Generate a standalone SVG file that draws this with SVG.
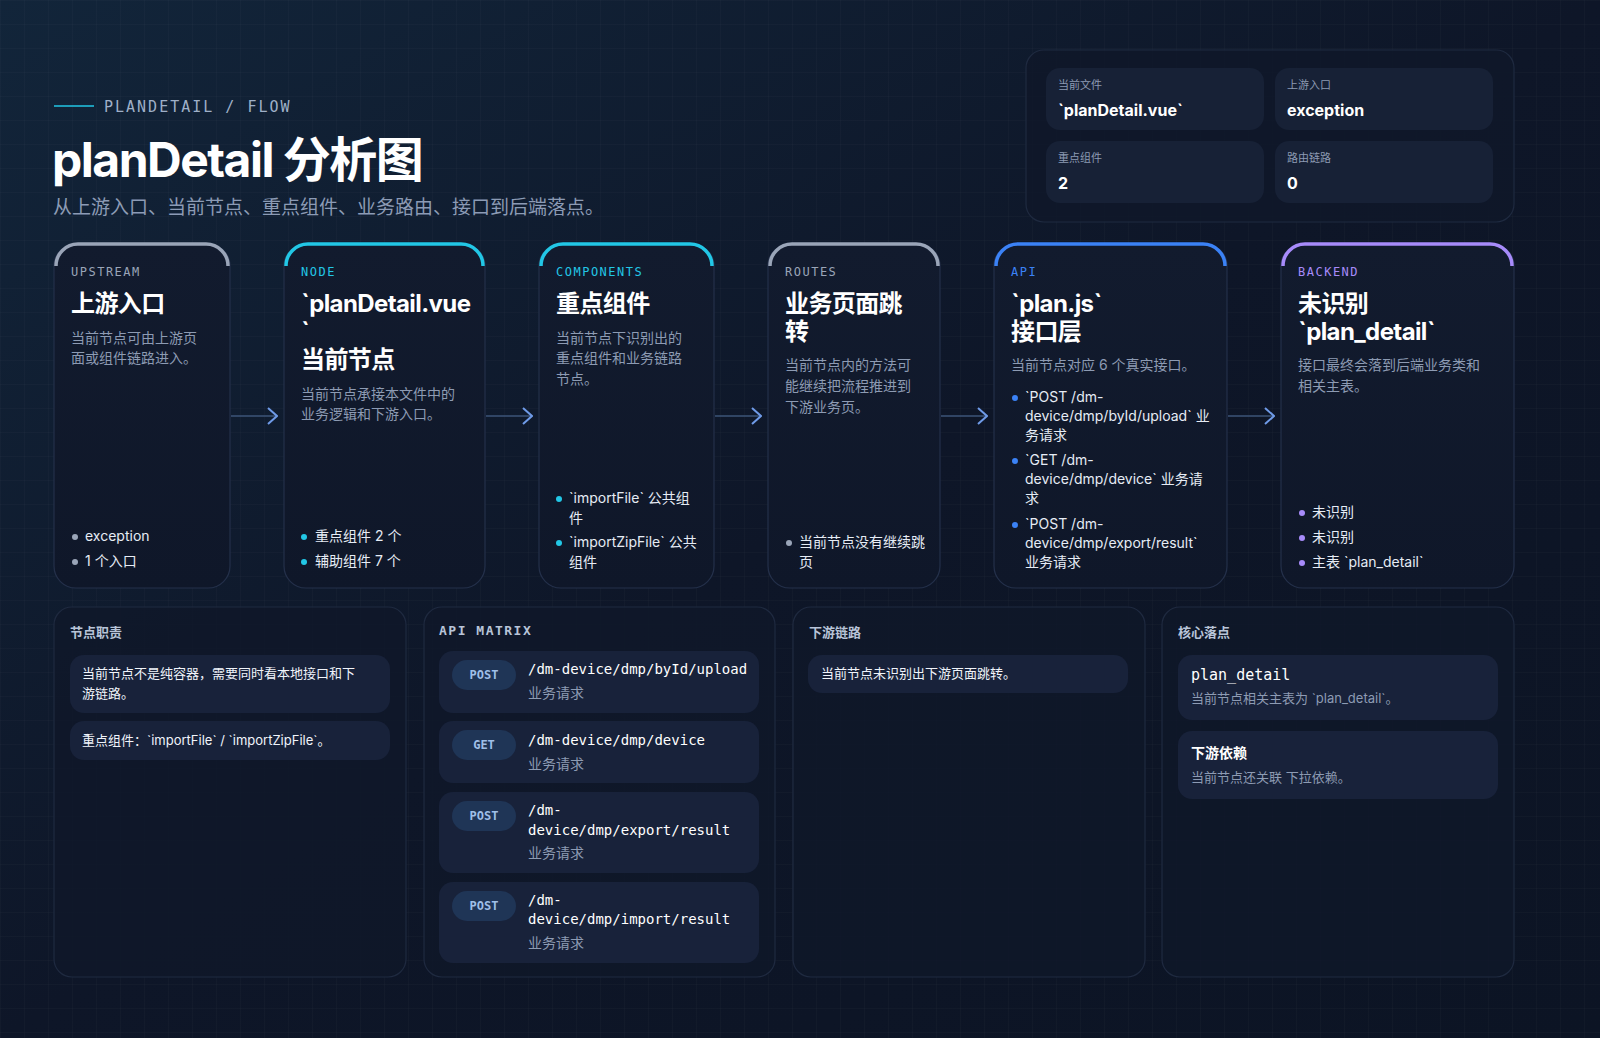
<svg xmlns="http://www.w3.org/2000/svg" width="1600" height="1038" viewBox="0 0 1600 1038">
<defs>
<linearGradient id="bg" x1="0" y1="0" x2="1" y2="1"><stop offset="0" stop-color="#12253a"/><stop offset="0.5" stop-color="#0e1628"/><stop offset="1" stop-color="#0c1424"/></linearGradient>
<pattern id="grid" width="24" height="24" patternUnits="userSpaceOnUse"><path d="M24 0H0V24" fill="none" stroke="#ffffff" stroke-opacity="0.035"/></pattern>
<linearGradient id="card" x1="0" y1="0" x2="0" y2="1"><stop offset="0" stop-color="#121b2e"/><stop offset="1" stop-color="#0f1729"/></linearGradient>
<marker id="arr" viewBox="0 0 12 20" refX="11" refY="10" markerWidth="12" markerHeight="20" markerUnits="userSpaceOnUse" orient="auto"><path d="M2 2L11 10L2 18" fill="none" stroke="#6f9be8" stroke-width="2"/></marker>
</defs>
<style>
.s{font-family:Inter,"Noto Sans CJK SC",sans-serif}
.m{font-family:"DejaVu Sans Mono","Liberation Mono",monospace}
.card{fill:url(#card);stroke:#24304a;stroke-width:1.2}
.pan{fill:#0f1829;fill-opacity:.85;stroke:#1f2a40;stroke-width:1.2}
.lab{font-size:12px;letter-spacing:1.5px}
.ttl{font-size:24px;font-weight:700;fill:#fff;letter-spacing:-0.6px}
.dsc{font-size:14px;fill:#8d9bb3}
.bul{font-size:14px;fill:#e6ecf5}
.cell{fill:#172136}
.row{fill:#18223a}
.badge{fill:#1f3556}
.bt{font-size:12px;font-weight:700;fill:#9fbfe8}
.hd{font-size:13px;font-weight:700;fill:#b8c4d8}
.it{font-size:13px;fill:#f0f4fa}
</style>
<rect width="1600" height="1038" fill="url(#bg)"/>
<rect width="1600" height="1038" fill="url(#grid)"/>
<g id="header">
<line x1="54" y1="106" x2="94" y2="106" stroke="#22c7e6" stroke-width="1.5"/>
<text x="104" y="112" class="m" font-size="15" letter-spacing="2" fill="#9fb0c8">PLANDETAIL / FLOW</text>
<text x="52" y="177" class="s" font-size="48" font-weight="700" letter-spacing="-1.5" fill="#fff">planDetail 分析图</text>
<text x="53" y="214" class="s" font-size="19" fill="#8c9bb5">从上游入口、当前节点、重点组件、业务路由、接口到后端落点。</text>
</g>
<g id="summary">
<rect x="1026" y="50" width="488" height="172" rx="18" class="pan"/>
<rect x="1046" y="68" width="218" height="62" rx="14" class="cell"/>
<rect x="1275" y="68" width="218" height="62" rx="14" class="cell"/>
<rect x="1046" y="141" width="218" height="62" rx="14" class="cell"/>
<rect x="1275" y="141" width="218" height="62" rx="14" class="cell"/>
<g class="s" font-size="11" fill="#8d9bb3"><text x="1058" y="89">当前文件</text><text x="1287" y="89">上游入口</text><text x="1058" y="162">重点组件</text><text x="1287" y="162">路由链路</text></g>
<g class="s" font-size="16" font-weight="700" fill="#fff"><text x="1058" y="116">`planDetail.vue`</text><text x="1287" y="116">exception</text><text x="1058" y="189">2</text><text x="1287" y="189">0</text></g>
</g>
<g id="connectors" stroke="#3d5478" stroke-width="1.5" fill="none">
<line x1="231" y1="416" x2="277" y2="416" marker-end="url(#arr)"/>
<line x1="486" y1="416" x2="532" y2="416" marker-end="url(#arr)"/>
<line x1="715" y1="416" x2="761" y2="416" marker-end="url(#arr)"/>
<line x1="941" y1="416" x2="987" y2="416" marker-end="url(#arr)"/>
<line x1="1228" y1="416" x2="1274" y2="416" marker-end="url(#arr)"/>
</g>
<g id="n-upstream">
<rect x="54" y="244" width="176" height="344" rx="22" class="card"/>
<path d="M56 266a22 22 0 0 1 22-22h128a22 22 0 0 1 22 22" fill="none" stroke="#9aa5b8" stroke-width="3.5"/>
<text x="71" y="276" class="m lab" fill="#9aa5b8">UPSTREAM</text>
<text x="71" y="312" class="s ttl">上游入口</text>
<text x="71" y="343" class="s dsc">当前节点可由上游页</text><text x="71" y="363" class="s dsc">面或组件链路进入。</text>
<circle cx="75" cy="537" r="3" fill="#9aa5b8"/><text x="85" y="541" class="s bul">exception</text>
<circle cx="75" cy="562" r="3" fill="#9aa5b8"/><text x="85" y="566" class="s bul">1 个入口</text>
</g>
<g id="n-node">
<rect x="284" y="244" width="201" height="344" rx="22" class="card"/>
<path d="M286 266a22 22 0 0 1 22-22h153a22 22 0 0 1 22 22" fill="none" stroke="#22c7e6" stroke-width="3.5"/>
<text x="301" y="276" class="m lab" fill="#22c7e6">NODE</text>
<text x="301" y="312" class="s ttl">`planDetail.vue</text><text x="301" y="340" class="s ttl">`</text>
<text x="301" y="368" class="s ttl">当前节点</text>
<text x="301" y="399" class="s dsc">当前节点承接本文件中的</text><text x="301" y="419" class="s dsc">业务逻辑和下游入口。</text>
<circle cx="304" cy="537" r="3" fill="#22c7e6"/><text x="315" y="541" class="s bul">重点组件 2 个</text>
<circle cx="304" cy="562" r="3" fill="#22c7e6"/><text x="315" y="566" class="s bul">辅助组件 7 个</text>
</g>
<g id="n-components">
<rect x="539" y="244" width="175" height="344" rx="22" class="card"/>
<path d="M541 266a22 22 0 0 1 22-22h127a22 22 0 0 1 22 22" fill="none" stroke="#22c7e6" stroke-width="3.5"/>
<text x="556" y="276" class="m lab" fill="#22c7e6">COMPONENTS</text>
<text x="556" y="312" class="s ttl">重点组件</text>
<text x="556" y="343" class="s dsc">当前节点下识别出的</text><text x="556" y="363" class="s dsc">重点组件和业务链路</text><text x="556" y="384" class="s dsc">节点。</text>
<circle cx="559" cy="499" r="3" fill="#22c7e6"/><text x="569" y="503" class="s bul">`importFile` 公共组</text><text x="569" y="523" class="s bul">件</text>
<circle cx="559" cy="543" r="3" fill="#22c7e6"/><text x="569" y="547" class="s bul">`importZipFile` 公共</text><text x="569" y="567" class="s bul">组件</text>
</g>
<g id="n-routes">
<rect x="768" y="244" width="172" height="344" rx="22" class="card"/>
<path d="M770 266a22 22 0 0 1 22-22h124a22 22 0 0 1 22 22" fill="none" stroke="#9aa5b8" stroke-width="3.5"/>
<text x="785" y="276" class="m lab" fill="#9aa5b8">ROUTES</text>
<text x="785" y="312" class="s ttl">业务页面跳</text><text x="785" y="340" class="s ttl">转</text>
<text x="785" y="370" class="s dsc">当前节点内的方法可</text><text x="785" y="391" class="s dsc">能继续把流程推进到</text><text x="785" y="412" class="s dsc">下游业务页。</text>
<circle cx="789" cy="543" r="3" fill="#9aa5b8"/><text x="799" y="547" class="s bul">当前节点没有继续跳</text><text x="799" y="567" class="s bul">页</text>
</g>
<g id="n-api">
<rect x="994" y="244" width="233" height="344" rx="22" class="card"/>
<path d="M996 266a22 22 0 0 1 22-22h185a22 22 0 0 1 22 22" fill="none" stroke="#3b82f6" stroke-width="3.5"/>
<text x="1011" y="276" class="m lab" fill="#3b82f6">API</text>
<text x="1011" y="312" class="s ttl">`plan.js`</text><text x="1011" y="340" class="s ttl">接口层</text>
<text x="1011" y="370" class="s dsc">当前节点对应 6 个真实接口。</text>
<circle cx="1015" cy="398" r="3" fill="#3b82f6"/><text x="1025" y="402" class="s bul">`POST /dm-</text><text x="1025" y="421" class="s bul">device/dmp/byId/upload` 业</text><text x="1025" y="440" class="s bul">务请求</text>
<circle cx="1015" cy="461" r="3" fill="#3b82f6"/><text x="1025" y="465" class="s bul">`GET /dm-</text><text x="1025" y="484" class="s bul">device/dmp/device` 业务请</text><text x="1025" y="503" class="s bul">求</text>
<circle cx="1015" cy="525" r="3" fill="#3b82f6"/><text x="1025" y="529" class="s bul">`POST /dm-</text><text x="1025" y="548" class="s bul">device/dmp/export/result`</text><text x="1025" y="567" class="s bul">业务请求</text>
</g>
<g id="n-backend">
<rect x="1281" y="244" width="233" height="344" rx="22" class="card"/>
<path d="M1283 266a22 22 0 0 1 22-22h185a22 22 0 0 1 22 22" fill="none" stroke="#a78bfa" stroke-width="3.5"/>
<text x="1298" y="276" class="m lab" fill="#a78bfa">BACKEND</text>
<text x="1298" y="312" class="s ttl">未识别</text><text x="1298" y="340" class="s ttl">`plan_detail`</text>
<text x="1298" y="370" class="s dsc">接口最终会落到后端业务类和</text><text x="1298" y="391" class="s dsc">相关主表。</text>
<circle cx="1302" cy="513" r="3" fill="#a78bfa"/><text x="1312" y="517" class="s bul">未识别</text>
<circle cx="1302" cy="538" r="3" fill="#a78bfa"/><text x="1312" y="542" class="s bul">未识别</text>
<circle cx="1302" cy="563" r="3" fill="#a78bfa"/><text x="1312" y="567" class="s bul">主表 `plan_detail`</text>
</g>
<g id="p-duty">
<rect x="54" y="607" width="352" height="370" rx="18" class="pan"/>
<text x="70" y="637" class="s hd">节点职责</text>
<rect x="70" y="655" width="320" height="58" rx="14" class="row"/>
<text x="82" y="678" class="s it">当前节点不是纯容器，需要同时看本地接口和下</text><text x="82" y="698" class="s it">游链路。</text>
<rect x="70" y="721" width="320" height="39" rx="14" class="row"/>
<text x="82" y="745" class="s it">重点组件：`importFile` / `importZipFile`。</text>
</g>
<g id="p-api">
<rect x="424" y="607" width="351" height="370" rx="18" class="pan"/>
<text x="439" y="635" class="m hd" letter-spacing="1.5">API MATRIX</text>
<rect x="439" y="651" width="320" height="62" rx="14" class="row"/>
<rect x="452" y="660" width="64" height="30" rx="15" class="badge"/><text x="484" y="679" text-anchor="middle" class="m bt">POST</text>
<text x="528" y="674" class="m" font-size="14" fill="#fff">/dm-device/dmp/byId/upload</text><text x="528" y="698" class="s dsc">业务请求</text>
<rect x="439" y="721" width="320" height="62" rx="14" class="row"/>
<rect x="452" y="730" width="64" height="30" rx="15" class="badge"/><text x="484" y="749" text-anchor="middle" class="m bt">GET</text>
<text x="528" y="745" class="m" font-size="14" fill="#fff">/dm-device/dmp/device</text><text x="528" y="769" class="s dsc">业务请求</text>
<rect x="439" y="792" width="320" height="81" rx="14" class="row"/>
<rect x="452" y="801" width="64" height="30" rx="15" class="badge"/><text x="484" y="820" text-anchor="middle" class="m bt">POST</text>
<text x="528" y="815" class="m" font-size="14" fill="#fff">/dm-</text><text x="528" y="835" class="m" font-size="14" fill="#fff">device/dmp/export/result</text><text x="528" y="858" class="s dsc">业务请求</text>
<rect x="439" y="882" width="320" height="81" rx="14" class="row"/>
<rect x="452" y="891" width="64" height="30" rx="15" class="badge"/><text x="484" y="910" text-anchor="middle" class="m bt">POST</text>
<text x="528" y="905" class="m" font-size="14" fill="#fff">/dm-</text><text x="528" y="924" class="m" font-size="14" fill="#fff">device/dmp/import/result</text><text x="528" y="948" class="s dsc">业务请求</text>
</g>
<g id="p-down">
<rect x="793" y="607" width="352" height="370" rx="18" class="pan"/>
<text x="809" y="637" class="s hd">下游链路</text>
<rect x="808" y="655" width="320" height="38" rx="14" class="row"/>
<text x="821" y="678" class="s it">当前节点未识别出下游页面跳转。</text>
</g>
<g id="p-core">
<rect x="1162" y="607" width="352" height="370" rx="18" class="pan"/>
<text x="1178" y="637" class="s hd">核心落点</text>
<rect x="1178" y="655" width="320" height="65" rx="14" class="row"/>
<text x="1191" y="680" class="m" font-size="15" fill="#fff">plan_detail</text><text x="1191" y="703" class="s" font-size="13" fill="#8d9bb3">当前节点相关主表为 `plan_detail`。</text>
<rect x="1178" y="731" width="320" height="68" rx="14" class="row"/>
<text x="1191" y="758" class="s" font-size="14" font-weight="700" fill="#fff">下游依赖</text><text x="1191" y="782" class="s" font-size="13" fill="#8d9bb3">当前节点还关联 下拉依赖。</text>
</g>
</svg>
